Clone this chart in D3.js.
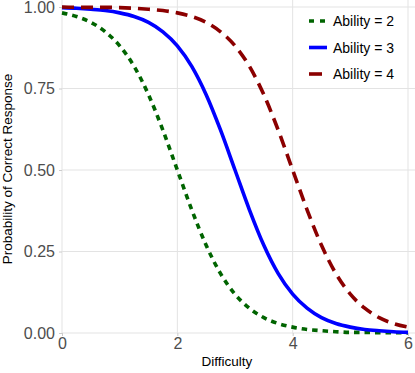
<!DOCTYPE html>
<meta charset="utf-8">
<style>
    body { margin: 0; background: #fff; }
    text { font-family: "Liberation Sans", Arial, sans-serif; }
    .grid line { stroke: #e3e3e3; stroke-width: 1px; }
    .tick-label { fill: #4d4d4d; font-size: 16px; }
    .title { fill: #000; font-size: 13.5px; }
    .legend text { font-size: 14px; fill: #000; }
</style>
<svg width="415" height="373"></svg>
<script src="https://d3js.org/d3.v7.min.js"></script>
<script>
    // difficulty grid, read at 0.25 steps
    let difficulty = d3.range(0, 6.0001, 0.25);

    let ability2 = [0.982, 0.971, 0.953, 0.924, 0.881, 0.818, 0.731, 0.622, 0.500,
        0.378, 0.269, 0.182, 0.119, 0.076, 0.047, 0.029, 0.018, 0.011, 0.007,
        0.004, 0.002, 0.002, 0.001, 0.001, 0.000];
    let ability3 = [0.998, 0.996, 0.993, 0.989, 0.982, 0.971, 0.953, 0.924, 0.881,
        0.818, 0.731, 0.622, 0.500, 0.378, 0.269, 0.182, 0.119, 0.076, 0.047,
        0.029, 0.018, 0.011, 0.007, 0.004, 0.002];
    let ability4 = [1.000, 0.999, 0.999, 0.999, 0.998, 0.996, 0.993, 0.989, 0.982,
        0.971, 0.953, 0.924, 0.881, 0.818, 0.731, 0.622, 0.500, 0.378, 0.269,
        0.182, 0.119, 0.076, 0.047, 0.029, 0.018];

    let seriesNames = ["Ability = 2", "Ability = 3", "Ability = 4"];
    let xTicks = [0, 2, 4, 6];
    let yTicks = [0, 0.25, 0.5, 0.75, 1];

    let svg = d3.select("svg");
    let pLeft = 62, pRight = 408, pTop = 7, pBottom = 333;

    let x = d3.scaleLinear().domain([0, 6]).range([pLeft, pRight]);
    let y = d3.scaleLinear().domain([0, 1]).range([pBottom, pTop]);

    let grid = svg.append("g").attr("class", "grid");
    grid.selectAll("line.v").data(xTicks).enter().append("line")
            .attr("x1", d => x(d)).attr("x2", d => x(d))
            .attr("y1", 0).attr("y2", pBottom);
    grid.selectAll("line.h").data(yTicks).enter().append("line")
            .attr("x1", pLeft).attr("x2", 415)
            .attr("y1", d => y(d)).attr("y2", d => y(d));

    // axes
    let xAxis = svg.append("g")
            .attr("transform", "translate(0," + pBottom + ")")
            .call(d3.axisBottom(x).tickValues(xTicks).tickSize(3).tickPadding(2).tickFormat(d3.format("d")));
    let yAxis = svg.append("g")
            .attr("transform", "translate(" + pLeft + ",0)")
            .call(d3.axisLeft(y).tickValues(yTicks).tickSize(3).tickPadding(4).tickFormat(d3.format(".2f")));
    [xAxis, yAxis].forEach(a => {
        a.select(".domain").remove();
        a.selectAll(".tick line").attr("stroke", "#cccccc");
        a.selectAll(".tick text").attr("class", "tick-label")
                .style("font-family", "'Liberation Sans', Arial, sans-serif").style("font-size", "16px");
    });

    svg.append("text").attr("class", "title")
            .attr("x", 227).attr("y", 366)
            .attr("text-anchor", "middle").text("Difficulty");
    svg.append("text").attr("class", "title")
            .attr("transform", "translate(11.5," + ((pTop + pBottom) / 2 - 1) + ") rotate(-90)")
            .attr("text-anchor", "middle").text("Probability of Correct Response");

    let series = [
        {name: seriesNames[0], values: ability2, color: "#006400", dash: "5.5,5", key: "5,6"},
        {name: seriesNames[1], values: ability3, color: "#0000ff", dash: null, key: null},
        {name: seriesNames[2], values: ability4, color: "#8b0000", dash: "12,7", key: "13,7"}
    ];

    let line = d3.line()
            .x((d, i) => x(difficulty[i]))
            .y(d => y(d))
            .curve(d3.curveMonotoneX);

    svg.selectAll("path.curve").data(series).enter().append("path")
            .attr("class", "curve")
            .attr("d", d => line(d.values))
            .attr("fill", "none")
            .attr("stroke", d => d.color)
            .attr("stroke-width", 3.6)
            .attr("stroke-dasharray", d => d.dash);

    let legend = svg.append("g").attr("class", "legend");
    let item = legend.selectAll("g").data(series).enter().append("g")
            .attr("transform", (d, i) => "translate(309," + (21 + i * 26.5) + ")");
    item.append("line")
            .attr("x1", 0).attr("x2", 18)
            .attr("stroke", d => d.color)
            .attr("stroke-width", 3.6)
            .attr("stroke-dasharray", d => d.key);
    item.append("text")
            .attr("x", 24).attr("y", 5)
            .text(d => d.name);
</script>
